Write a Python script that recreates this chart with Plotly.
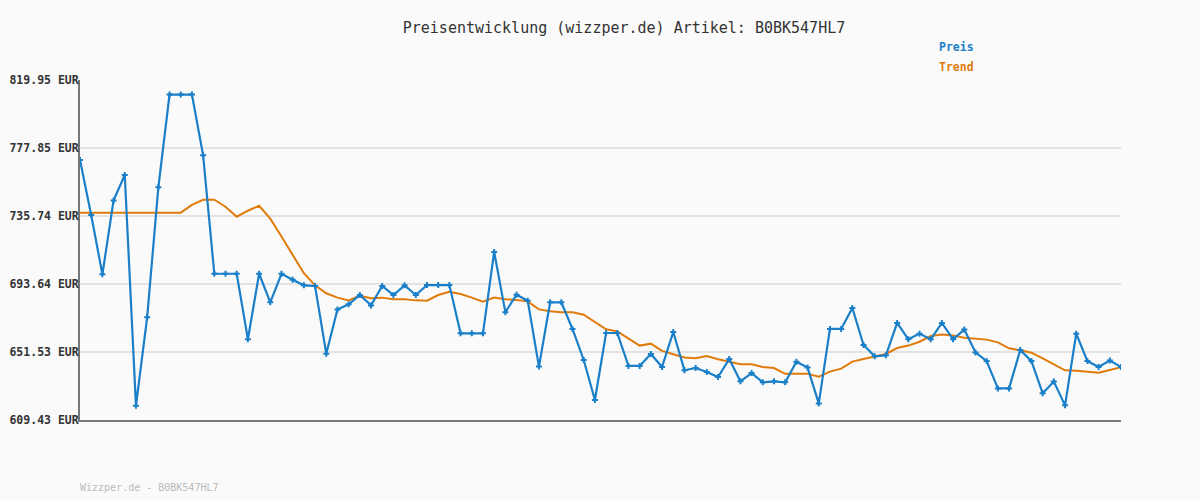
import plotly.graph_objects as go

title_text = "Preisentwicklung (wizzper.de) Artikel: B0BK547HL7"
footer_text = "Wizzper.de - B0BK547HL7"
series_names = ["Preis", "Trend"]

preis = [770.4, 736.4, 699.6, 745.4, 761.1, 618.3, 673.0, 753.5, 810.9, 810.9,
         810.9, 773.3, 700.0, 700.0, 700.0, 659.4, 700.0, 682.3, 700.0, 696.3,
         692.8, 692.4, 650.5, 677.8, 681.1, 686.8, 680.4, 692.4, 686.8, 692.8,
         686.8, 693.0, 693.0, 693.0, 663.1, 663.1, 663.1, 713.5, 676.2, 687.0,
         683.3, 642.5, 682.3, 682.3, 665.8, 646.6, 621.8, 663.3, 663.3, 642.9,
         642.9, 650.3, 642.3, 663.9, 640.2, 641.6, 639.1, 636.0, 647.2, 633.4,
         638.5, 632.8, 633.4, 632.8, 645.5, 641.9, 619.7, 665.8, 665.8, 678.8,
         655.9, 648.9, 649.5, 669.5, 659.4, 662.9, 659.4, 669.5, 659.4, 665.4,
         651.3, 645.9, 629.0, 629.0, 652.8, 645.9, 626.0, 633.2, 618.5, 662.9,
         645.9, 642.3, 646.2, 642.3]

trend = [737.8, 737.8, 737.8, 737.8, 737.8, 737.8, 737.8, 737.8, 737.8, 737.8,
         742.6, 745.8, 745.8, 741.5, 735.3, 739.0, 742.1, 734.1, 723.0, 711.4,
         700.3, 692.8, 687.9, 685.2, 683.5, 686.4, 684.8, 685.2, 684.2, 684.2,
         683.5, 683.3, 686.8, 688.8, 687.4, 685.2, 682.7, 685.2, 684.2, 683.7,
         682.9, 677.9, 676.7, 676.1, 676.1, 674.6, 670.1, 665.6, 664.3, 660.0,
         655.5, 656.7, 652.2, 650.1, 648.1, 647.6, 649.0, 647.0, 645.4, 643.9,
         643.9, 642.3, 641.6, 638.0, 638.0, 638.0, 636.3, 639.4, 641.2, 645.6,
         647.2, 648.9, 650.3, 654.0, 655.5, 657.9, 661.4, 662.3, 661.7, 660.4,
         659.6, 659.2, 657.5, 653.8, 652.6, 651.1, 647.6, 644.1, 640.2, 640.0,
         639.4, 638.7, 640.4, 642.1]

tick_values = [609.43, 651.53, 693.64, 735.74, 777.85, 819.95]
tick_labels = ["609.43 EUR", "651.53 EUR", "693.64 EUR", "735.74 EUR", "777.85 EUR", "819.95 EUR"]

x = list(range(len(preis)))
blue = "#1a7fc9"
orange = "#e07b0b"
mono = "DejaVu Sans Mono"

fig = go.Figure()
fig.add_trace(go.Scatter(x=x, y=trend, mode="lines", name=series_names[1],
                         line=dict(color=orange, width=2), hoverinfo="skip"))
fig.add_trace(go.Scatter(x=x, y=preis, mode="lines+markers", name=series_names[0],
                         line=dict(color=blue, width=2.2),
                         marker=dict(symbol="cross", size=5, color=blue)))

fig.update_layout(
    width=1200, height=500,
    margin=dict(l=80, r=79, t=80, b=80),
    paper_bgcolor="#fafafa", plot_bgcolor="#fafafa",
    showlegend=False,
    title=dict(text=title_text, x=0.52, xanchor="center", y=0.944, yanchor="middle",
               font=dict(family=mono, size=15, color="#333333")),
    font=dict(family=mono),
)
fig.update_xaxes(range=[0, len(preis) - 1], showgrid=False, zeroline=False,
                 showticklabels=False, showline=True, linecolor="#777777", linewidth=2,
                 ticks="", automargin=False)
fig.update_yaxes(range=[tick_values[0], tick_values[-1]], tickvals=tick_values,
                 ticktext=["<b>%s</b>" % t for t in tick_labels],
                 tickfont=dict(family=mono, size=11.5, color="#333333"),
                 showgrid=True, gridcolor="#e3e3e3", gridwidth=2, zeroline=False,
                 showline=True, linecolor="#777777", linewidth=2, ticks="",
                 ticklabelstandoff=-3, automargin=False)

fig.add_annotation(text="<b>%s</b>" % series_names[0], xref="paper", yref="paper",
                   x=(937 - 80) / 1041, y=(420 - 47) / 340, xanchor="left", yanchor="middle",
                   showarrow=False, font=dict(family=mono, size=11.5, color=blue))
fig.add_annotation(text="<b>%s</b>" % series_names[1], xref="paper", yref="paper",
                   x=(937 - 80) / 1041, y=(420 - 67) / 340, xanchor="left", yanchor="middle",
                   showarrow=False, font=dict(family=mono, size=11.5, color=orange))
fig.add_annotation(text=footer_text, xref="paper", yref="paper",
                   x=-2 / 1041, y=(420 - 487) / 340, xanchor="left", yanchor="middle",
                   showarrow=False, font=dict(family=mono, size=10, color="#bbbbbb"))

fig.write_html("out.html", config={"displayModeBar": False},
               post_script="document.body.style.margin='0';document.body.style.background='#fafafa';")
